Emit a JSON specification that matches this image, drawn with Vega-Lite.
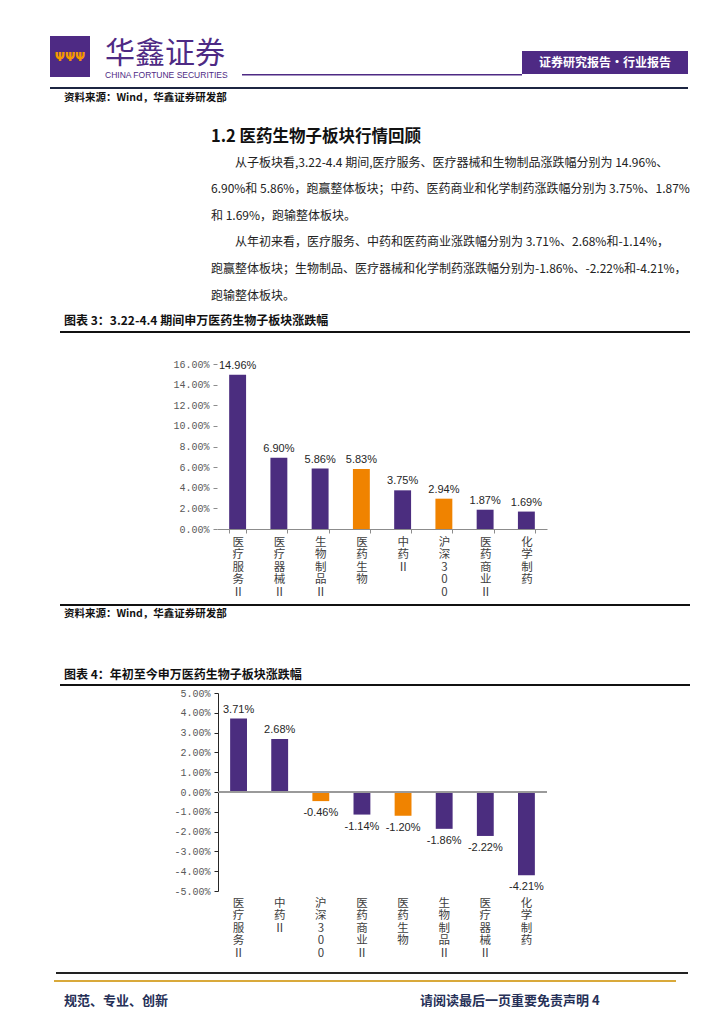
{
  "$schema": "https://vega.github.io/schema/vega-lite/v6.json",
  "background": "white",
  "padding": {"left": 50, "top": 36, "right": 0, "bottom": 0},
  "spacing": 0,
  "config": {
    "view": {"stroke": null},
    "font": "Noto Sans CJK SC",
    "title": {"anchor": "start", "orient": "bottom", "frame": "bounds", "baseline": "top", "color": "#111111", "fontWeight": "bold", "limit": 0, "subtitleFont": "Noto Sans CJK SC"},
    "locale": {"number": {"decimal": ".", "thousands": ",", "grouping": [3], "currency": ["", ""], "minus": "-"}}
  },
  "vconcat": [
    {
      "spacing": 0,
      "hconcat": [
        {"width": 40, "height": 41, "view": {"fill": "#4E2A84", "stroke": null}, "data": {"values": [{"logo": "ΨΨΨ"}]}, "mark": {"type": "text", "color": "#F39800", "fontSize": 12, "fontWeight": "bold", "font": "DejaVu Sans"}, "encoding": {"text": {"field": "logo"}}},
        {"width": 15, "height": 41, "data": {"values": []}, "mark": "point"},
        {"width": 125, "height": 45, "data": {"values": []}, "mark": "point",
         "title": {"text": "华鑫证券", "subtitle": "CHINA FORTUNE SECURITIES", "offset": -42, "fontSize": 30, "fontWeight": "normal", "color": "#4E2A84", "subtitleFont": "Liberation Sans Narrow, Liberation Sans", "subtitleFontSize": 8.5, "subtitleColor": "#4E2A84", "subtitlePadding": 2}},
        {"width": 12, "height": 41, "data": {"values": []}, "mark": "point"},
        {"spacing": 0, "vconcat": [
          {"width": 280, "height": 38, "data": {"values": []}, "mark": "point"},
          {"width": 280, "height": 1.5, "view": {"fill": "#4E2A84", "stroke": null}, "data": {"values": []}, "mark": "point"}
        ]},
        {"spacing": 0, "vconcat": [
          {"width": 166, "height": 15, "data": {"values": []}, "mark": "point"},
          {"width": 166, "height": 23, "view": {"fill": "#4E2A84", "stroke": null}, "data": {"values": [{"banner": "证券研究报告·行业报告"}]}, "mark": {"type": "text", "color": "white", "fontSize": 12, "fontWeight": "bold"}, "encoding": {"text": {"field": "banner"}}}
        ]}
      ]
    },
    {"width": 1, "height": 6, "data": {"values": []}, "mark": "point"},
    {"width": 638, "height": 2, "view": {"fill": "#1C2541", "stroke": null}, "data": {"values": []}, "mark": "point"},
    {"width": 300, "height": 40, "data": {"values": []}, "mark": "point",
     "title": {"text": "资料来源：Wind，华鑫证券研发部", "offset": -36, "dx": 14, "fontSize": 10.5, "color": "#111111"}},
    {"width": 640, "height": 186, "data": {"values": []}, "mark": "point",
     "title": {
       "text": "1.2 医药生物子板块行情回顾",
       "subtitle": [
         "\u200b\u3000\u3000从子板块看,3.22-4.4 期间,医疗服务、医疗器械和生物制品涨跌幅分别为 14.96%、",
         "6.90%和 5.86%，跑赢整体板块；中药、医药商业和化学制药涨跌幅分别为 3.75%、1.87%",
         "和 1.69%，跑输整体板块。",
         "\u200b\u3000\u3000从年初来看，医疗服务、中药和医药商业涨跌幅分别为 3.71%、2.68%和-1.14%，",
         "跑赢整体板块；生物制品、医疗器械和化学制药涨跌幅分别为-1.86%、-2.22%和-4.21%，",
         "跑输整体板块。"
       ],
       "offset": -186, "dx": 161, "fontSize": 16.5, "color": "#111111",
       "subtitleFontSize": 12, "subtitleColor": "#222222", "subtitleLineHeight": 26.6, "subtitlePadding": 12
     }},
    {"width": 400, "height": 15, "data": {"values": []}, "mark": "point",
     "title": {"text": "图表 3：3.22-4.4 期间申万医药生物子板块涨跌幅", "offset": -15, "dx": 14, "fontSize": 12, "color": "#111111"}},
    {"spacing": 0, "hconcat": [
      {"width": 10, "height": 2, "data": {"values": []}, "mark": "point"},
      {"width": 630, "height": 2, "view": {"fill": "#111111", "stroke": null}, "data": {"values": []}, "mark": "point"}
    ]},
    {"width": 1, "height": 26, "data": {"values": []}, "mark": "point"},
    {"spacing": 0, "hconcat": [
      {"width": 117, "height": 240, "data": {"values": []}, "mark": "point"},
      {
        "width": 330, "height": 165,
        "data": {"values": [
          {"sector": "医疗服务Ⅱ", "pct": 0.1496, "group": "subsector"},
          {"sector": "医疗器械Ⅱ", "pct": 0.069, "group": "subsector"},
          {"sector": "生物制品Ⅱ", "pct": 0.0586, "group": "subsector"},
          {"sector": "医药生物", "pct": 0.0583, "group": "index"},
          {"sector": "中药Ⅱ", "pct": 0.0375, "group": "subsector"},
          {"sector": "沪深300", "pct": 0.0294, "group": "index"},
          {"sector": "医药商业Ⅱ", "pct": 0.0187, "group": "subsector"},
          {"sector": "化学制药", "pct": 0.0169, "group": "subsector"}
        ]},
        "encoding": {
          "x": {"field": "sector", "type": "nominal", "sort": null,
                "scale": {"domain": ["医疗服务Ⅱ", "医疗器械Ⅱ", "生物制品Ⅱ", "医药生物", "中药Ⅱ", "沪深300", "医药商业Ⅱ", "化学制药"], "paddingInner": 0.59, "paddingOuter": 0.295},
                "axis": {"title": null, "labelAngle": 0, "labelExpr": "split(datum.label, '')", "labelBaseline": "top", "labelAlign": "center", "labelLineHeight": 12.5, "labelFontSize": 11.5, "labelColor": "#404040", "labelPadding": 3, "labelLimit": 0, "tickBand": "extent", "tickSize": 4, "tickColor": "#8c8c8c", "domainColor": "#8c8c8c", "grid": false}},
          "y": {"field": "pct", "type": "quantitative", "scale": {"domain": [0, 0.16], "nice": false},
                "axis": {"title": null, "values": [0, 0.02, 0.04, 0.06, 0.08, 0.1, 0.12, 0.14, 0.16], "format": ".2%", "domain": false, "tickSize": 4, "tickColor": "#8c8c8c", "labelFont": "Liberation Mono", "labelFontSize": 10, "labelColor": "#595959", "labelPadding": 4, "grid": false, "minExtent": 50}}
        },
        "layer": [
          {"mark": {"type": "bar"}, "encoding": {"color": {"field": "group", "type": "nominal", "scale": {"domain": ["subsector", "index"], "range": ["#4B2D7F", "#F08300"]}, "legend": null}}},
          {"mark": {"type": "text", "baseline": "bottom", "dy": -4, "font": "Liberation Sans", "fontSize": 11, "color": "#262626"}, "encoding": {"text": {"field": "pct", "type": "quantitative", "format": ".2%"}}}
        ]
      }
    ]},
    {"spacing": 0, "hconcat": [
      {"width": 10, "height": 2, "data": {"values": []}, "mark": "point"},
      {"width": 630, "height": 2, "view": {"fill": "#111111", "stroke": null}, "data": {"values": []}, "mark": "point"}
    ]},
    {"width": 300, "height": 63, "data": {"values": []}, "mark": "point",
     "title": {"text": "资料来源：Wind，华鑫证券研发部", "offset": -60, "dx": 14, "fontSize": 10.5, "color": "#111111"}},
    {"width": 400, "height": 14, "data": {"values": []}, "mark": "point",
     "title": {"text": "图表 4：年初至今申万医药生物子板块涨跌幅", "offset": -14, "dx": 14, "fontSize": 12, "color": "#111111"}},
    {"spacing": 0, "hconcat": [
      {"width": 10, "height": 2, "data": {"values": []}, "mark": "point"},
      {"width": 630, "height": 2, "view": {"fill": "#111111", "stroke": null}, "data": {"values": []}, "mark": "point"}
    ]},
    {"width": 1, "height": 2, "data": {"values": []}, "mark": "point"},
    {"spacing": 0, "hconcat": [
      {"width": 118, "height": 279, "data": {"values": []}, "mark": "point"},
      {
        "width": 329, "height": 198,
        "data": {"values": [
          {"sector": "医疗服务Ⅱ", "pct": 0.0371, "group": "subsector"},
          {"sector": "中药Ⅱ", "pct": 0.0268, "group": "subsector"},
          {"sector": "沪深300", "pct": -0.0046, "group": "index"},
          {"sector": "医药商业Ⅱ", "pct": -0.0114, "group": "subsector"},
          {"sector": "医药生物", "pct": -0.012, "group": "index"},
          {"sector": "生物制品Ⅱ", "pct": -0.0186, "group": "subsector"},
          {"sector": "医疗器械Ⅱ", "pct": -0.0222, "group": "subsector"},
          {"sector": "化学制药", "pct": -0.0421, "group": "subsector"}
        ]},
        "encoding": {
          "y": {"field": "pct", "type": "quantitative", "scale": {"domain": [-0.05, 0.05], "nice": false},
                "axis": {"title": null, "values": [-0.05, -0.04, -0.03, -0.02, -0.01, 0, 0.01, 0.02, 0.03, 0.04, 0.05], "format": ".2%", "domain": true, "domainColor": "#262626", "tickSize": 4, "tickColor": "#262626", "labelFont": "Liberation Mono", "labelFontSize": 10, "labelColor": "#595959", "labelPadding": 4, "grid": false, "minExtent": 50}}
        },
        "layer": [
          {"mark": {"type": "bar"},
           "encoding": {
             "x": {"field": "sector", "type": "nominal", "sort": null,
                   "scale": {"domain": ["医疗服务Ⅱ", "中药Ⅱ", "沪深300", "医药商业Ⅱ", "医药生物", "生物制品Ⅱ", "医疗器械Ⅱ", "化学制药"], "paddingInner": 0.59, "paddingOuter": 0.295},
                   "axis": {"title": null, "labelAngle": 0, "labelExpr": "split(datum.label, '')", "labelBaseline": "top", "labelAlign": "center", "labelLineHeight": 12.5, "labelFontSize": 11.5, "labelColor": "#404040", "labelPadding": 6, "labelLimit": 0, "ticks": false, "tickSize": 0, "domain": false, "grid": false}},
             "color": {"field": "group", "type": "nominal", "scale": {"domain": ["subsector", "index"], "range": ["#4B2D7F", "#F08300"]}, "legend": null}}},
          {"transform": [{"filter": "datum.pct >= 0"}],
           "mark": {"type": "text", "baseline": "bottom", "dy": -4, "font": "Liberation Sans", "fontSize": 11, "color": "#262626"},
           "encoding": {
             "x": {"field": "sector", "type": "nominal", "sort": null, "scale": {"domain": ["医疗服务Ⅱ", "中药Ⅱ", "沪深300", "医药商业Ⅱ", "医药生物", "生物制品Ⅱ", "医疗器械Ⅱ", "化学制药"], "paddingInner": 0.59, "paddingOuter": 0.295}},
             "text": {"field": "pct", "type": "quantitative", "format": ".2%"}}},
          {"transform": [{"filter": "datum.pct < 0"}],
           "mark": {"type": "text", "baseline": "top", "dy": 6, "font": "Liberation Sans", "fontSize": 11, "color": "#262626"},
           "encoding": {
             "x": {"field": "sector", "type": "nominal", "sort": null, "scale": {"domain": ["医疗服务Ⅱ", "中药Ⅱ", "沪深300", "医药商业Ⅱ", "医药生物", "生物制品Ⅱ", "医疗器械Ⅱ", "化学制药"], "paddingInner": 0.59, "paddingOuter": 0.295}},
             "text": {"field": "pct", "type": "quantitative", "format": ".2%"}}},
          {"mark": {"type": "rule", "color": "#9a9a9a", "strokeWidth": 1.2}, "encoding": {"y": {"datum": 0}}}
        ]
      }
    ]},
    {"spacing": 0, "hconcat": [
      {"width": 6, "height": 2, "data": {"values": []}, "mark": "point"},
      {"width": 632, "height": 2, "view": {"fill": "#222222", "stroke": null}, "data": {"values": []}, "mark": "point"}
    ]},
    {"width": 1, "height": 6, "data": {"values": []}, "mark": "point"},
    {"spacing": 0, "hconcat": [
      {"width": 4, "height": 2, "data": {"values": []}, "mark": "point"},
      {"width": 622, "height": 2, "view": {"fill": "#D9A93A", "stroke": null}, "data": {"values": []}, "mark": "point"}
    ]},
    {"spacing": 0, "hconcat": [
      {"width": 370, "height": 30, "data": {"values": []}, "mark": "point",
       "title": {"text": "规范、专业、创新", "offset": -17, "dx": 14, "fontSize": 13, "color": "#263057"}},
      {"width": 270, "height": 30, "data": {"values": []}, "mark": "point",
       "title": {"text": "请阅读最后一页重要免责声明 4", "offset": -17, "dx": 0, "fontSize": 13, "color": "#263057"}}
    ]}
  ]
}
